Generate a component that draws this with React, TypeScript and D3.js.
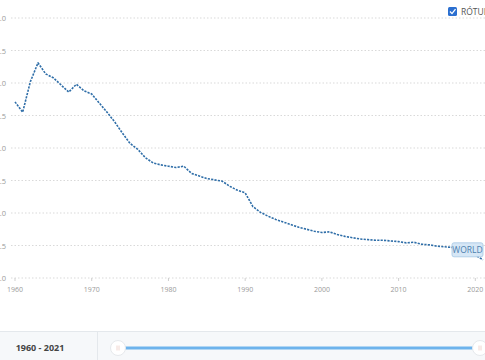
import React from 'react';
import * as d3 from 'd3';

// World fertility rate (births per woman), 1960-2021
const years = d3.range(1960, 2022);
const fertility = [
  4.71, 4.55, 5.02, 5.31, 5.14, 5.08, 4.97, 4.86, 4.98, 4.88,
  4.83, 4.69, 4.55, 4.40, 4.23, 4.07, 3.98, 3.85, 3.77, 3.74,
  3.72, 3.70, 3.72, 3.61, 3.57, 3.53, 3.51, 3.49, 3.41, 3.35,
  3.31, 3.10, 3.01, 2.95, 2.90, 2.86, 2.82, 2.78, 2.75, 2.72,
  2.70, 2.71, 2.67, 2.64, 2.62, 2.60, 2.59, 2.58, 2.58, 2.57,
  2.56, 2.54, 2.55, 2.52, 2.51, 2.49, 2.48, 2.47, 2.44, 2.41,
  2.35, 2.28,
];
const yTicks = [2.0, 2.5, 3.0, 3.5, 4.0, 4.5, 5.0, 5.5, 6.0];
const xTicks = [1960, 1970, 1980, 1990, 2000, 2010, 2020];
const seriesLabel = 'WORLD';
const rangeLabel = '1960 - 2021';

const W = 485;
const H = 360;
const font = '"Open Sans", "Noto Sans", sans-serif';

export default function App() {
  const x = d3.scaleLinear().domain([1960, 2021]).range([15, 483]);
  const y = d3.scaleLinear().domain([2, 6]).range([278, 18]);

  const line = d3
    .line<number>()
    .x((_, i) => x(years[i]))
    .y((d) => y(d));

  const last = fertility.length - 1;
  const labX = x(years[last]) - 31;
  const labY = y(fertility[last]) - 17;

  return (
    <div style={{ position: 'fixed', left: 0, top: 0, width: W, height: H, background: '#fff' }}>
      <svg width={W} height={H} style={{ display: 'block', fontFamily: font }}>
        {/* grid + y labels (cut at the left edge, as in the source) */}
        {yTicks.map((t) => (
          <g key={t}>
            <line x1={11} x2={W} y1={y(t)} y2={y(t)} stroke="#d9d9d9" strokeWidth={1} strokeDasharray="1.5,2" />
            <text x={6} y={y(t) + 3} textAnchor="end" fontSize={7.5} fill="#9a9a9a">
              {t.toFixed(1)}
            </text>
          </g>
        ))}
        {/* x labels */}
        {xTicks.map((t) => (
          <g key={t}>
            <line x1={x(t)} x2={x(t)} y1={y(2)} y2={y(2) + 3} stroke="#cfcfcf" />
            <text x={x(t)} y={y(2) + 14} textAnchor="middle" fontSize={7} fill="#9a9a9a">
              {t}
            </text>
          </g>
        ))}
        {/* series */}
        <path
          d={line(fertility) ?? ''}
          fill="none"
          stroke="#2f6ea8"
          strokeWidth={1.6}
          strokeDasharray="2.2,1.2"
          strokeLinejoin="round"
        />
        {/* series label */}
        <g>
          <rect x={labX} y={labY} width={31} height={14} rx={2} fill="#d6e7f6" stroke="#a4c6e3" strokeWidth={0.8} />
          <text x={labX + 15.5} y={labY + 10} textAnchor="middle" fontSize={8.5} fill="#4d7fae">
            {seriesLabel}
          </text>
        </g>
        {/* checkbox legend */}
        <rect x={448} y={7} width={9} height={9} rx={1.5} fill="#2b6fd0" />
        <path d="M450,11.5 L452,13.6 L455.5,9.2" fill="none" stroke="#fff" strokeWidth={1.3} />
        <text x={461} y={15} fontSize={8.5} fill="#555">RÓTULOS</text>
        {/* bottom range bar */}
        <rect x={0} y={331} width={W} height={29} fill="#f6f8fa" />
        <line x1={0} x2={W} y1={331.5} y2={331.5} stroke="#e4e8ec" />
        <line x1={97.5} x2={97.5} y1={332} y2={H} stroke="#e4e8ec" />
        <text x={40} y={351} textAnchor="middle" fontSize={9} fontWeight={700} fill="#444">
          {rangeLabel}
        </text>
        <line x1={125} x2={476} y1={348} y2={348} stroke="#6db3ec" strokeWidth={3} />
        {[118, 480].map((cx) => (
          <g key={cx}>
            <circle cx={cx} cy={348} r={7.5} fill="#fff" stroke="#e6e9ec" />
            <line x1={cx - 1} x2={cx - 1} y1={345.5} y2={350.5} stroke="#f0d6d0" />
            <line x1={cx + 1} x2={cx + 1} y1={345.5} y2={350.5} stroke="#f0d6d0" />
          </g>
        ))}
      </svg>
    </div>
  );
}
